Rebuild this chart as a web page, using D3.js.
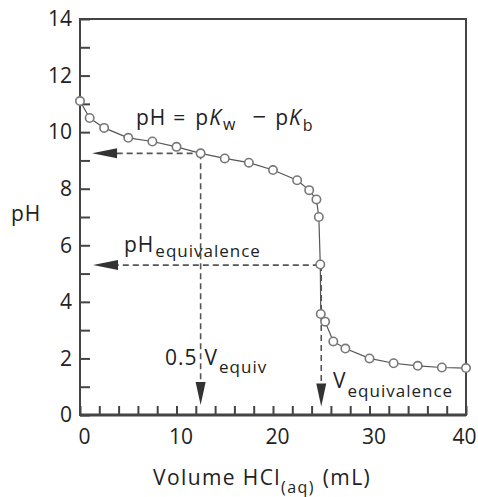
<!DOCTYPE html>
<html>
<head>
<meta charset="utf-8">
<script src="https://cdn.jsdelivr.net/npm/d3@7"></script>
<style>
  body { margin: 0; background: #fff; }
  text { font-family: "Open Sans", sans-serif; fill: #222; }
</style>
</head>
<body>
<div id="chart"></div>
<script>
// DATOS
const volume = [0, 1, 2.5, 5, 7.5, 10, 12.5, 15, 17.5, 20, 22.5, 23.75, 24.5, 24.75, 24.9, 24.95, 25.4, 26.25, 27.5, 30, 32.5, 35, 37.5, 40]
const phValues = [11.1, 10.5, 10.15, 9.8, 9.67, 9.48, 9.25, 9.07, 8.92, 8.66, 8.3, 7.95, 7.62, 7.0, 5.32, 3.57, 3.3, 2.6, 2.35, 2.0, 1.83, 1.74, 1.68, 1.66]
const yTicks = [0, 1, 2, 3, 4, 5, 6, 7, 8, 9, 10, 11, 12, 13, 14]
const xTicks = [0, 2, 4, 6, 8, 10, 12, 14, 16, 18, 20, 22, 24, 26, 28, 30, 32, 34, 36, 38, 40]
const vEquiv = 25
const vHalf = 12.5
const phHalf = 9.25
const phEquiv = 5.3

// CTES
const width = 478
const height = 497
const margin = { left: 80, right: 12, top: 19, bottom: 82 }

const svg = d3.select("#chart").append("svg").attr("width", width).attr("height", height)

// ESCALAS
const x = d3.scaleLinear().domain([0, 40]).range([margin.left, width - margin.right])
const y = d3.scaleLinear().domain([0, 14]).range([height - margin.bottom, margin.top])

// EJES
const yAxis = d3.axisLeft(y).tickValues(yTicks).tickSize(-10).tickPadding(8)
    .tickFormat(d => d % 2 === 0 ? d : "")
const xAxis = d3.axisBottom(x).tickValues(xTicks).tickSize(-9).tickPadding(14)
    .tickFormat(d => d % 10 === 0 ? d : "")

const yAxisGroup = svg.append("g").attr("transform", `translate(${margin.left},0)`).call(yAxis)
const xAxisGroup = svg.append("g").attr("transform", `translate(0,${height - margin.bottom})`).call(xAxis)

;[yAxisGroup, xAxisGroup].forEach(g => {
    g.select(".domain").remove()
    g.selectAll(".tick line").attr("stroke", "#444").attr("stroke-width", 2)
    g.selectAll(".tick text").attr("font-size", 21).attr("fill", "#222")
})
xAxisGroup.selectAll(".tick text").attr("dx", d => d < 40 ? 4 : -2)

// MARCO
svg.append("rect")
    .attr("x", x(0)).attr("y", y(14))
    .attr("width", x(40) - x(0)).attr("height", y(0) - y(14))
    .attr("fill", "none").attr("stroke", "#444").attr("stroke-width", 2)
svg.append("line")
    .attr("x1", x(0)).attr("x2", x(40)).attr("y1", y(0)).attr("y2", y(0))
    .attr("stroke", "#444").attr("stroke-width", 3)

// LINEAS DISCONTINUAS
function dashed(x1, y1, x2, y2) {
    svg.append("line").attr("x1", x(x1)).attr("y1", y(y1)).attr("x2", x(x2)).attr("y2", y(y2))
        .attr("stroke", "#555").attr("stroke-width", 1.6).attr("stroke-dasharray", "6,4")
}
dashed(3.8, phHalf, vHalf, phHalf)
dashed(vHalf, phHalf, vHalf, 1.2)
dashed(3.4, phEquiv, vEquiv, phEquiv)
dashed(vEquiv, phEquiv, vEquiv, 1.2)

// FLECHAS
function arrowLeft(xv, yv) {
    const tx = x(xv), ty = y(yv)
    svg.append("path").attr("d", `M${tx},${ty} L${tx + 25},${ty - 5} L${tx + 25},${ty + 5} Z`).attr("fill", "#333")
}
function arrowDown(xv, yv) {
    const tx = x(xv), ty = y(yv)
    svg.append("path").attr("d", `M${tx},${ty} L${tx - 5},${ty - 23} L${tx + 5},${ty - 23} Z`).attr("fill", "#333")
}
arrowLeft(1.25, phHalf)
arrowLeft(1.35, phEquiv)
arrowDown(vHalf, 0.35)
arrowDown(vEquiv, 0.3)

// CURVA
const data = volume.map((v, i) => ({ v: v, ph: phValues[i] }))
const line = d3.line().x(d => x(d.v)).y(d => y(d.ph))
svg.append("path").datum(data).attr("d", line)
    .attr("fill", "none").attr("stroke", "#555").attr("stroke-width", 1.2)
svg.selectAll("circle").data(data).enter().append("circle")
    .attr("cx", d => x(d.v)).attr("cy", d => y(d.ph)).attr("r", 4.2)
    .attr("fill", "#fff").attr("stroke", "#777").attr("stroke-width", 1.6)

// TEXTOS (trozos seguidos, sub = baja la linea base)
function richText(x0, y0, pieces, ls) {
    const t = svg.append("text").attr("x", x0).attr("y", y0).attr("letter-spacing", ls || 0)
    pieces.forEach(p => {
        t.append("tspan").attr("y", y0 + (p.sub || 0)).attr("dx", p.dx || 0)
            .attr("font-size", p.size || 21)
            .attr("font-style", p.italic ? "italic" : null)
            .text(p.t)
    })
}

richText(136, 125, [
    { t: "pH" },
    { t: "=", dx: 7 },
    { t: "p", dx: 9 },
    { t: "K", italic: true },
    { t: "w", size: 16, sub: 5, dx: 1 },
    { t: "\u2212", dx: 16, size: 24 },
    { t: "p", dx: 8 },
    { t: "K", italic: true },
    { t: "b", size: 16, sub: 6, dx: 1 }
], 1)

richText(124, 252, [
    { t: "pH" },
    { t: "equivalence", size: 17, sub: 5, dx: 1 }
], 1)

richText(165, 365, [
    { t: "0.5" },
    { t: "V", dx: 7 },
    { t: "equiv", size: 17, sub: 8, dx: 1 }
], 1)

richText(333, 388, [
    { t: "V" },
    { t: "equivalence", size: 17, sub: 9, dx: 1 }
], 1)

// TITULOS DE EJES
richText(11, 221, [{ t: "pH" }], 1)
richText(153, 485, [
    { t: "Volume HCl" },
    { t: "(aq)", size: 16, sub: 8 },
    { t: "(mL)", dx: 8 }
], 1.4)
</script>
</body>
</html>
